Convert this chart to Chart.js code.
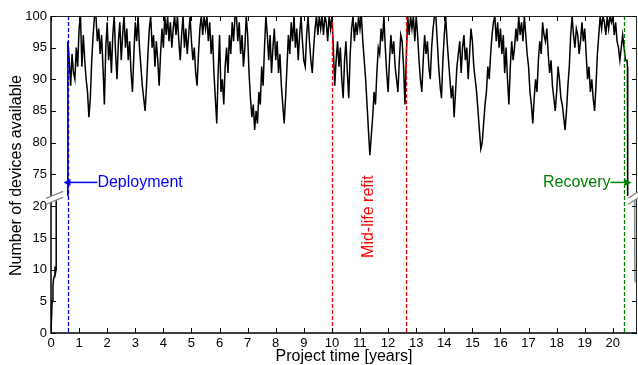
<!DOCTYPE html>
<html>
<head>
<meta charset="utf-8">
<script src="https://cdn.jsdelivr.net/npm/chart.js@4"></script>
<style>
  html, body { margin: 0; padding: 0; background: #fff; }
</style>
</head>
<body>
<canvas id="myChart" width="638" height="365"></canvas>
<script>
// deployment ramp (years, devices)
const deployTimes = [0, 0.04, 0.07, 0.09, 0.12, 0.14, 0.16, 0.18, 0.185, 0.59];
const deployDevices = [0, 5, 7.5, 8.5, 9, 10.5, 9.5, 10, 40, 60];

// operation phase, one reading every 0.05 years from 0.60
const sampleStart = 0.6;
const sampleStep = 0.05;
const availability = [
  96, 93, 89, 94, 91, 90, 95, 92, 98, 100,
  92, 97, 93, 90, 88, 84, 87, 93, 97, 100,
  100, 96, 98, 94, 97, 92, 86, 95, 99, 93,
  96, 91, 97, 100, 94, 90, 96, 99, 93, 97,
  100, 95, 98, 93, 96, 91, 88, 94, 99, 96,
  100, 95, 92, 89, 87, 85, 89, 94, 98, 100,
  95, 97, 92, 96, 93, 89, 94, 98, 95, 100,
  97, 100, 96, 99, 95, 98, 100, 97, 100, 96,
  93, 97, 100, 95, 98, 94, 97, 100, 96, 93,
  95, 91, 89, 94, 98, 100, 97, 100, 98, 100,
  96, 99, 94, 97, 91, 87, 83, 91, 97, 88,
  90, 86, 92, 95, 91, 97, 94, 99, 96, 100,
  100, 96, 99, 94, 97, 92, 95, 100, 97, 91,
  87, 84, 86, 82, 85, 83, 88, 86, 92, 89,
  95, 100, 97, 93, 97, 91, 95, 98, 93, 96,
  91, 94, 89, 86, 83, 87, 92, 97, 94, 99,
  96, 100, 95, 98, 93, 97, 100, 96, 93, 92,
  97, 100, 96, 93, 91, 95, 98, 100, 97, 100,
  98, 100, 97, 100, 99, 96, 100, 98, 100, 95,
  89, 93, 96, 92, 95, 90, 87, 93, 96, 91,
  87, 94, 98, 100, 96, 99, 97, 100, 98, 100,
  96, 93, 90, 86, 82, 78, 81, 84, 88, 86,
  91, 95, 94, 98, 96, 100, 95, 91, 88, 93,
  97, 94, 96, 92, 90, 88, 93, 97, 96, 92,
  86, 94, 100, 97, 100, 98, 100, 96, 100, 97,
  93, 90, 88, 93, 97, 94, 96, 92, 90, 95,
  98, 100, 100, 96, 92, 89, 87, 93, 97, 100,
  96, 93, 90, 87, 89, 84, 88, 92, 94, 96,
  91, 95, 97, 93, 95, 90, 94, 98, 96, 92,
  90, 88, 85, 82, 79, 80, 83, 86, 88, 92,
  90, 94, 97, 99, 100, 96, 99, 95, 98, 94,
  97, 91, 95, 90, 86, 92, 96, 93, 95, 98,
  96, 100, 97, 99, 96, 100, 97, 94, 92, 88,
  86, 83, 87, 90, 88, 93, 96, 94, 99, 97,
  96, 98, 94, 91, 93, 89, 87, 85, 88, 92,
  90, 87, 86, 84, 82, 85, 89, 92, 97, 100,
  97, 95, 98, 97, 94, 96, 99, 96, 98, 94,
  90, 92, 88, 90, 87, 85, 89, 94, 97, 100,
  98, 100, 99, 97, 100, 98, 100, 99, 100, 97,
  99, 96, 95, 93, 95, 97, 95, 93, 93
];

// recovery at the end of the project
const recoveryTimes = [20.52, 20.53, 20.77, 20.78, 20.79];
const recoveryDevices = [92, 60, 30, 12, 8];

// events marked with dashed lines
const deployTime = 0.62;
const refitStart = 10.0;
const refitEnd = 12.63;
const recoveryTime = 20.38;

const xTicks = [0, 1, 2, 3, 4, 5, 6, 7, 8, 9, 10, 11, 12, 13, 14, 15, 16, 17, 18, 19, 20];
const upperTicks = [75, 80, 85, 90, 95, 100];
const lowerTicks = [0, 5, 10, 15, 20];

const FONT = "'Liberation Sans', Arial, Helvetica, sans-serif";

const times = deployTimes
  .concat(availability.map((v, i) => sampleStart + i * sampleStep))
  .concat(recoveryTimes);
const devices = deployDevices.concat(availability).concat(recoveryDevices);
const points = times.map((t, i) => ({ x: t, y: devices[i] }));

// each dataset only shows inside its own piece of the broken axis
const axisClip = {
  id: "axisClip",
  beforeDatasetDraw(chart, args) {
    const yScale = chart.scales[args.meta.yAxisID];
    const area = chart.chartArea;
    const ctx = chart.ctx;
    ctx.save();
    ctx.beginPath();
    ctx.rect(area.left, yScale.top, area.right - area.left, yScale.bottom - yScale.top);
    ctx.clip();
  },
  afterDatasetDraw(chart) {
    chart.ctx.restore();
  },
};

function arrow(ctx, x1, y, x2, color) {
  const dir = x2 > x1 ? 1 : -1;
  ctx.strokeStyle = color;
  ctx.fillStyle = color;
  ctx.lineWidth = 1.5;
  ctx.setLineDash([]);
  ctx.beginPath();
  ctx.moveTo(x1, y);
  ctx.lineTo(x2 - dir * 6, y);
  ctx.stroke();
  ctx.beginPath();
  ctx.moveTo(x2, y);
  ctx.lineTo(x2 - dir * 7, y - 3.5);
  ctx.lineTo(x2 - dir * 7, y + 3.5);
  ctx.closePath();
  ctx.fill();
}

const decorations = {
  id: "decorations",
  afterDatasetsDraw(chart) {
    const ctx = chart.ctx;
    const { left, right, top, bottom } = chart.chartArea;
    const x = chart.scales.x;
    const yUp = chart.scales.yUp;
    const yLow = chart.scales.yLow;

    // event lines
    const events = [
      [deployTime, "#0000ff"],
      [refitStart, "#ff0000"],
      [refitEnd, "#ff0000"],
      [recoveryTime, "#008000"],
    ];
    ctx.save();
    ctx.lineWidth = 1.3;
    ctx.setLineDash([4, 2]);
    events.forEach(([t, c]) => {
      const px = Math.round(x.getPixelForValue(t)) + 0.5;
      ctx.strokeStyle = c;
      ctx.beginPath();
      ctx.moveTo(px, top);
      ctx.lineTo(px, bottom);
      ctx.stroke();
    });
    ctx.restore();

    // axes box and inward ticks
    ctx.save();
    ctx.strokeStyle = "#000";
    ctx.lineWidth = 1.5;
    ctx.beginPath();
    ctx.moveTo(left, top);
    ctx.lineTo(left, bottom);
    ctx.lineTo(right, bottom);
    ctx.stroke();
    ctx.lineWidth = 1;
    ctx.strokeStyle = "#222";
    ctx.beginPath();
    ctx.moveTo(left, top + 0.5);
    ctx.lineTo(right, top + 0.5);
    ctx.moveTo(right - 0.5, top);
    ctx.lineTo(right - 0.5, bottom);
    ctx.stroke();
    ctx.strokeStyle = "#000";
    ctx.beginPath();
    xTicks.forEach((t) => {
      const px = Math.round(x.getPixelForValue(t)) + 0.5;
      ctx.moveTo(px, bottom);
      ctx.lineTo(px, bottom - 5);
      ctx.moveTo(px, top);
      ctx.lineTo(px, top + 5);
    });
    upperTicks.forEach((v) => {
      const py = Math.round(yUp.getPixelForValue(v)) + 0.5;
      ctx.moveTo(left, py);
      ctx.lineTo(left + 5, py);
      ctx.moveTo(right, py);
      ctx.lineTo(right - 5, py);
    });
    lowerTicks.forEach((v) => {
      const py = Math.round(yLow.getPixelForValue(v)) + 0.5;
      ctx.moveTo(left, py);
      ctx.lineTo(left + 5, py);
      ctx.moveTo(right, py);
      ctx.lineTo(right - 5, py);
    });
    ctx.stroke();

    // axis break marks
    const yb = yUp.bottom;
    [[left - 5, left + 12], [right - 9, right + 2]].forEach(([a, b]) => {
      ctx.fillStyle = "#fff";
      ctx.beginPath();
      ctx.moveTo(a, yb + 2);
      ctx.lineTo(b, yb - 5);
      ctx.lineTo(b, yb + 1);
      ctx.lineTo(a, yb + 8);
      ctx.closePath();
      ctx.fill();
      ctx.strokeStyle = "#888";
      ctx.lineWidth = 1.2;
      ctx.beginPath();
      ctx.moveTo(a, yb + 2);
      ctx.lineTo(b, yb - 5);
      ctx.moveTo(a, yb + 8);
      ctx.lineTo(b, yb + 1);
      ctx.stroke();
    });
    ctx.restore();

    // annotations
    ctx.save();
    ctx.font = "16px " + FONT;
    ctx.textBaseline = "middle";
    const ay = yUp.getPixelForValue(73.7);
    const dx = x.getPixelForValue(deployTime);
    arrow(ctx, dx + 29, ay, dx - 5, "#0000ff");
    ctx.fillStyle = "#0000ff";
    ctx.textAlign = "left";
    ctx.fillText("Deployment", dx + 29, ay);

    const rx = x.getPixelForValue(recoveryTime);
    arrow(ctx, rx - 13, ay, rx + 8, "#008000");
    ctx.fillStyle = "#008000";
    ctx.textAlign = "right";
    ctx.fillText("Recovery", rx - 13, ay);

    const mx = x.getPixelForValue((refitStart + refitEnd) / 2);
    const my = yLow.getPixelForValue(18.4);
    ctx.translate(mx, my);
    ctx.rotate(-Math.PI / 2);
    ctx.fillStyle = "#ff0000";
    ctx.textAlign = "center";
    ctx.fillText("Mid-life refit", 0, 0);
    ctx.restore();

    // y title
    ctx.save();
    ctx.font = "16px " + FONT;
    ctx.fillStyle = "#000";
    ctx.textAlign = "center";
    ctx.textBaseline = "middle";
    ctx.translate(17, (top + bottom) / 2 + 1);
    ctx.rotate(-Math.PI / 2);
    ctx.fillText("Number of devices available", 0, 0);
    ctx.restore();
  },
};

function fixedTicks(list) {
  return (scale) => {
    scale.ticks = list.map((v) => ({ value: v }));
  };
}

const tickFont = { family: FONT, size: 13 };

new Chart(document.getElementById("myChart"), {
  type: "line",
  data: {
    datasets: [
      {
        data: points,
        yAxisID: "yUp",
        borderColor: "#000",
        borderWidth: 1.5,
        pointRadius: 0,
        tension: 0,
        fill: false,
      },
      {
        data: points,
        yAxisID: "yLow",
        borderColor: "#000",
        borderWidth: 1.5,
        pointRadius: 0,
        tension: 0,
        fill: false,
        segment: {
          borderColor: (c) => (c.p0.parsed.x > 20 ? "#888" : "#000"),
        },
      },
    ],
  },
  options: {
    responsive: false,
    animation: false,
    events: [],
    layout: { padding: { left: 0, right: 1, top: 16, bottom: 0 } },
    plugins: { legend: { display: false }, tooltip: { enabled: false } },
    scales: {
      x: {
        type: "linear",
        position: "bottom",
        min: 0,
        max: 20.86,
        grid: { display: false, drawTicks: false },
        border: { display: false },
        ticks: { color: "#000", font: tickFont, padding: 3, maxRotation: 0 },
        afterBuildTicks: fixedTicks(xTicks),
        afterFit: (scale) => { scale.height = 32; },
        title: {
          display: true,
          text: "Project time [years]",
          color: "#000",
          font: { family: FONT, size: 16, lineHeight: 1 },
          padding: 0,
        },
      },
      yLow: {
        type: "linear",
        position: "left",
        stack: "devices",
        stackWeight: 21.6,
        min: 0,
        max: 21.6,
        grid: { display: false, drawTicks: false },
        border: { display: false },
        ticks: { color: "#000", font: tickFont, padding: 4 },
        afterBuildTicks: fixedTicks(lowerTicks),
        afterFit: (scale) => { scale.width = 51; },
      },
      yUp: {
        type: "linear",
        position: "left",
        stack: "devices",
        stackWeight: 28.5,
        min: 71.5,
        max: 100,
        grid: { display: false, drawTicks: false },
        border: { display: false },
        ticks: { color: "#000", font: tickFont, padding: 4 },
        afterBuildTicks: fixedTicks(upperTicks),
        afterFit: (scale) => { scale.width = 51; },
      },
    },
  },
  plugins: [axisClip, decorations],
});
</script>
</body>
</html>
